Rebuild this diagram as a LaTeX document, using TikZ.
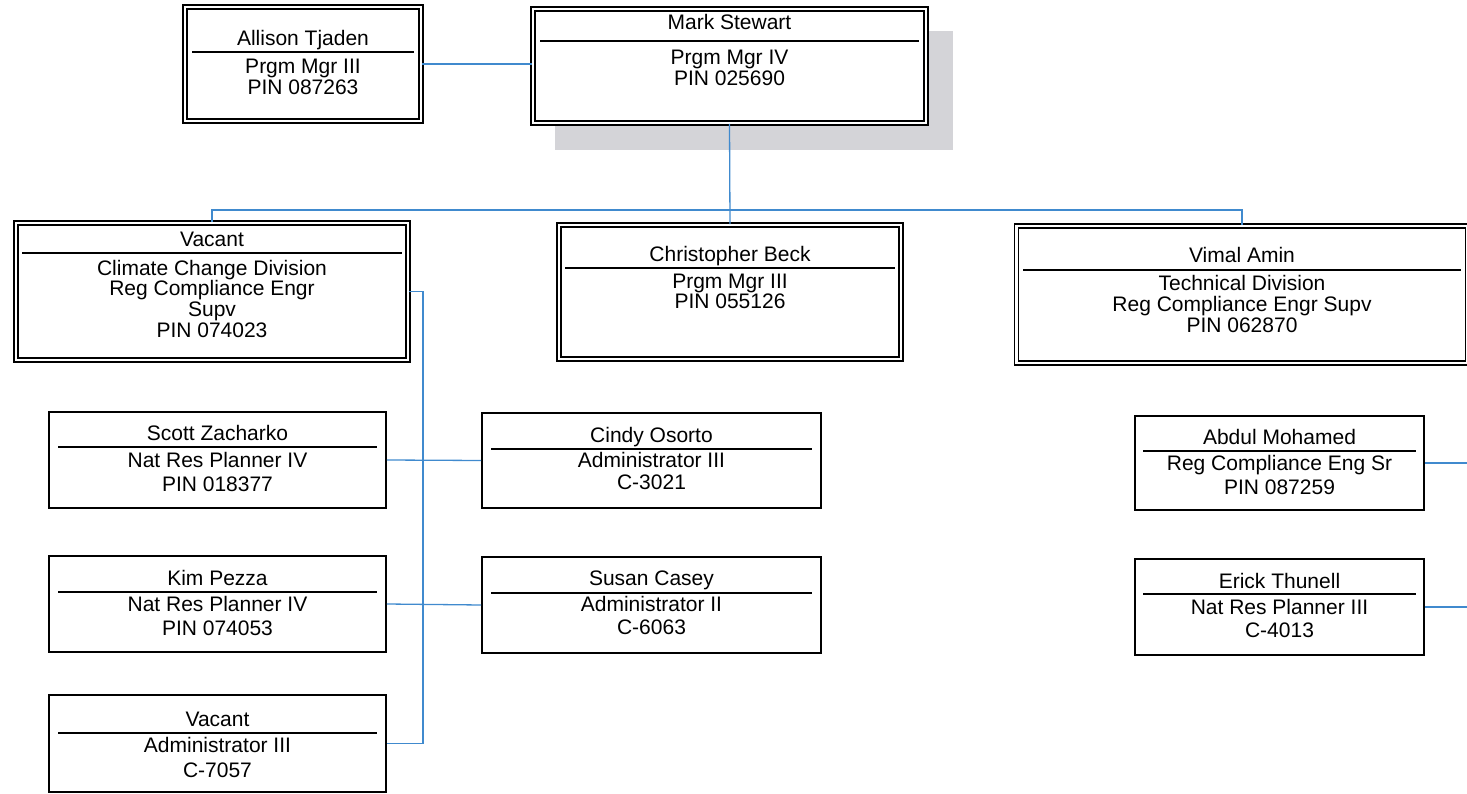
\documentclass[tikz,border=0pt]{standalone}
\usepackage{fontspec}
\setmainfont{Liberation Sans}
\definecolor{connblue}{RGB}{64,138,206}
\definecolor{shadowgray}{RGB}{212,212,216}
\tikzset{
  x=1pt, y=-1pt,
  dbox/.style={draw=black, line width=1.7pt, double=white, double distance=2.2pt, fill=white, inner sep=0pt, rectangle},
  sbox/.style={draw=black, line width=1.7pt, fill=white, inner sep=0pt, rectangle},
  sep/.style={draw=black, line width=1.5pt},
  txt/.style={inner sep=0pt, text height=15pt, text depth=0pt, font=\fontsize{21}{24}\selectfont},
  conn/.style={draw=connblue, line width=1.3pt},
}
\begin{document}
\begin{tikzpicture}
\useasboundingbox (0,0) rectangle (1467,794);
% shadow behind Mark Stewart
\fill[shadowgray] (555,31) rectangle (953,150);

% ---------- top level ----------
\node[dbox, minimum width=236pt, minimum height=114pt] (allison) at (303,64) {};
\draw[sep] (192,52) -- (414,52);
\node[txt] (allison1) at (303,38) {Allison Tjaden};
\node[txt] (allison2) at (303,66) {Prgm Mgr III};
\node[txt] (allison3) at (303,87) {PIN 087263};

\node[dbox, minimum width=393pt, minimum height=114pt] (mark) at (729.5,66) {};
\draw[sep] (540,41) -- (919,41);
\node[txt] (mark1) at (729.5,22) {Mark Stewart};
\node[txt] (mark2) at (729.5,57) {Prgm Mgr IV};
\node[txt] (mark3) at (729.5,78) {PIN 025690};

% ---------- second level ----------
\node[dbox, minimum width=392pt, minimum height=137pt] (climate) at (212,291.5) {};
\draw[sep] (22,253) -- (402,253);
\node[txt] (climate1) at (212,239) {Vacant};
\node[txt] (climate2) at (212,268) {Climate Change Division};
\node[txt] (climate3) at (212,288) {Reg Compliance Engr};
\node[txt] (climate4) at (212,309) {Supv};
\node[txt] (climate5) at (212,330) {PIN 074023};

\node[dbox, minimum width=342pt, minimum height=134pt] (chris) at (730,292) {};
\draw[sep] (565,268) -- (895,268);
\node[txt] (chris1) at (730,254) {Christopher Beck};
\node[txt] (chris2) at (730,281) {Prgm Mgr III};
\node[txt] (chris3) at (730,301) {PIN 055126};

\node[dbox, minimum width=451pt, minimum height=137pt] (vimal) at (1242,294.5) {};
\draw[sep] (1023,270) -- (1461,270);
\node[txt] (vimal1) at (1242,255) {Vimal Amin};
\node[txt] (vimal2) at (1242,283) {Technical Division};
\node[txt] (vimal3) at (1242,304) {Reg Compliance Engr Supv};
\node[txt] (vimal4) at (1242,325) {PIN 062870};

% ---------- third level, left ----------
\node[sbox, minimum width=337pt, minimum height=96pt] (scott) at (217.5,460) {};
\draw[sep] (58,447) -- (377,447);
\node[txt] (scott1) at (217.5,433) {Scott Zacharko};
\node[txt] (scott2) at (217.5,460) {Nat Res Planner IV};
\node[txt] (scott3) at (217.5,484) {PIN 018377};

\node[sbox, minimum width=337pt, minimum height=96pt] (kim) at (217.5,604) {};
\draw[sep] (58,592) -- (377,592);
\node[txt] (kim1) at (217.5,578) {Kim Pezza};
\node[txt] (kim2) at (217.5,604) {Nat Res Planner IV};
\node[txt] (kim3) at (217.5,628) {PIN 074053};

\node[sbox, minimum width=337pt, minimum height=97pt] (vadmin) at (217.5,743.5) {};
\draw[sep] (58,733) -- (377,733);
\node[txt] (vadmin1) at (217.5,719) {Vacant};
\node[txt] (vadmin2) at (217.5,745) {Administrator III};
\node[txt] (vadmin3) at (217.5,770) {C-7057};

% ---------- third level, middle ----------
\node[sbox, minimum width=339pt, minimum height=95pt] (cindy) at (651.5,460.5) {};
\draw[sep] (491,449) -- (812,449);
\node[txt] (cindy1) at (651.5,435) {Cindy Osorto};
\node[txt] (cindy2) at (651.5,460) {Administrator III};
\node[txt] (cindy3) at (651.5,482) {C-3021};

\node[sbox, minimum width=339pt, minimum height=96pt] (susan) at (651.5,605) {};
\draw[sep] (491,593) -- (812,593);
\node[txt] (susan1) at (651.5,578) {Susan Casey};
\node[txt] (susan2) at (651.5,604) {Administrator II};
\node[txt] (susan3) at (651.5,627) {C-6063};

% ---------- third level, right ----------
\node[sbox, minimum width=289pt, minimum height=94pt] (abdul) at (1279.5,463) {};
\draw[sep] (1143,451) -- (1416,451);
\node[txt] (abdul1) at (1279.5,437) {Abdul Mohamed};
\node[txt] (abdul2) at (1279.5,463) {Reg Compliance Eng Sr};
\node[txt] (abdul3) at (1279.5,487) {PIN 087259};

\node[sbox, minimum width=289pt, minimum height=96pt] (erick) at (1279.5,607) {};
\draw[sep] (1143,594) -- (1416,594);
\node[txt] (erick1) at (1279.5,581) {Erick Thunell};
\node[txt] (erick2) at (1279.5,607) {Nat Res Planner III};
\node[txt] (erick3) at (1279.5,630) {C-4013};

% ---------- connectors ----------
\coordinate (bus) at (730,210);
\coordinate (spine) at (423,291.5);
\coordinate (aend) at (1467,463);
\coordinate (eend) at (1467,607);

\draw[conn] (allison.east) -- (allison.east -| mark.west);
\draw[conn] (mark.south) -- (chris.north);
\draw[conn] (climate.north) |- (bus) -| (vimal.north);
\draw[conn] (climate.east) -- (spine) |- (vadmin.east);
\draw[conn] (scott.east) -- (cindy.west);
\draw[conn] (kim.east) -- (susan.west);
\draw[conn] (abdul.east) -- (aend);
\draw[conn] (erick.east) -- (eend);
\end{tikzpicture}
\end{document}
